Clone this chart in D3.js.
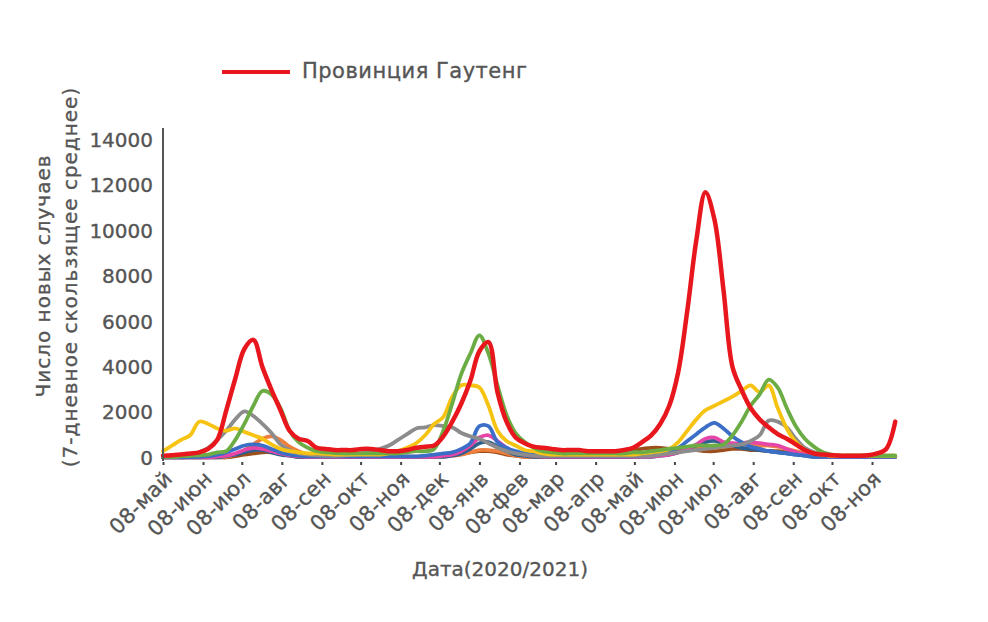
<!DOCTYPE html>
<html>
<head>
<meta charset="utf-8">
<script src="https://cdn.jsdelivr.net/npm/d3@7"></script>
<style>
  body { margin: 0; background: #fff; }
  text { font-family: "DejaVu Sans", sans-serif; fill: #555; stroke: #555; stroke-width: 0.35px; }
</style>
</head>
<body>
<div id="chart"></div>
<script>
// weekly points starting 08 May 2020 (7-day moving average, cases)
const startDate = new Date(2020, 4, 8);

const monthLabels = ["08-май", "08-июн", "08-июл", "08-авг", "08-сен", "08-окт", "08-ноя", "08-дек", "08-янв", "08-фев",
  "08-мар", "08-апр", "08-май", "08-июн", "08-июл", "08-авг", "08-сен", "08-окт", "08-ноя"];
const yTicks = [0, 2000, 4000, 6000, 8000, 10000, 12000, 14000];

const gauteng = [100,120,150,200,250,400,800,2100,3500,4800,5200,4000,3000,2100,1200,850,750,450,400,350,
  350,350,400,400,350,300,300,350,450,500,550,950,1600,2400,3400,4700,5100,2900,1600,900,
  650,500,450,400,350,350,350,300,300,300,300,350,450,700,1000,1500,2300,3800,6500,9600,
  11700,10500,7400,4000,3000,2200,1700,1350,1050,850,600,350,200,150,120,100,100,100,120,200,
  400,1600];
const kzn = [50,50,80,100,120,150,250,300,800,1500,2300,2950,2800,2200,1200,700,450,300,250,220,
  200,200,200,200,200,200,200,250,300,300,400,1200,2400,3700,4600,5400,4600,3200,1900,1100,
  700,450,300,250,200,200,200,200,200,200,200,200,250,250,300,350,400,450,500,550,
  550,550,600,1000,1600,2300,2800,3450,3100,2200,1400,850,500,250,150,100,100,100,100,100,
  100,100];
const westernCape = [300,550,800,1000,1600,1500,1300,1200,1300,1150,1000,850,600,400,300,250,200,200,180,150,
  150,150,150,150,150,200,300,450,650,1000,1500,1800,2700,3200,3200,3100,2300,1200,750,550,
  350,300,200,150,150,150,150,150,150,150,150,150,150,200,250,300,400,700,1200,1700,
  2100,2300,2500,2700,2950,3200,2900,3200,2200,1300,700,350,200,150,100,100,100,100,100,100,
  100,100];
const easternCape = [50,50,80,120,250,450,800,1200,1700,2050,1850,1500,1100,600,350,200,150,120,100,100,
  120,150,200,300,400,550,800,1050,1300,1350,1450,1400,1350,1100,950,850,650,450,300,200,
  150,100,100,100,100,100,100,100,100,100,100,100,100,100,100,150,200,250,300,350,
  400,450,500,550,600,750,1000,1650,1600,1350,850,450,250,150,100,100,100,100,100,100,
  100,100];
const freeState = [30,30,30,40,50,80,150,250,400,550,600,550,400,250,150,100,70,70,70,70,
  70,70,70,70,70,70,70,70,70,100,150,200,250,400,650,1400,1400,700,450,300,
  200,150,100,100,100,100,100,100,100,100,100,100,100,120,150,200,300,450,750,1050,
  1350,1550,1300,950,700,500,400,300,250,200,150,100,50,50,50,50,50,50,50,50,
  50,50];
const northWest = [30,30,30,30,30,30,60,100,200,350,450,400,300,200,120,80,50,50,50,50,
  50,50,50,50,50,50,50,50,50,50,50,100,150,300,550,900,1000,750,450,250,
  150,100,60,60,60,60,60,60,60,60,60,60,60,60,60,100,150,250,400,600,
  850,900,700,650,650,700,650,600,550,400,250,150,100,50,50,50,50,50,50,50,
  50,50];
const mpumalanga = [30,30,30,30,30,30,30,80,150,250,350,350,250,150,100,50,50,50,50,50,
  50,50,50,50,50,50,50,50,50,50,50,50,100,200,400,650,700,500,300,150,
  100,50,50,50,50,50,50,50,50,50,50,50,50,50,50,100,150,250,400,550,
  700,750,650,550,450,400,350,300,250,200,150,100,50,50,50,50,50,50,50,50,
  50,50];
const limpopo = [40,40,40,40,40,40,40,40,150,350,600,850,950,800,500,300,150,60,60,60,
  60,60,60,60,60,60,60,60,60,60,60,60,100,150,250,350,350,300,200,100,
  50,50,50,50,50,50,50,50,50,50,50,50,50,80,120,150,200,300,350,400,
  450,450,500,550,600,600,550,550,500,400,300,200,100,50,50,50,50,50,50,50,
  50,50];
const northernCape = [30,30,30,30,30,30,30,30,80,150,200,250,250,200,120,50,50,50,50,50,
  50,50,50,50,50,50,50,50,50,50,80,100,150,200,250,300,300,250,150,100,
  50,50,50,50,50,50,50,50,100,150,200,300,350,400,450,450,400,400,350,350,
  300,300,350,400,400,350,350,300,300,250,200,150,100,50,50,50,50,50,50,50,
  50,50];

// drawing order: bottom first, Gauteng on top
const series = [
  { values: northernCape, color: "#9c4f1c" },
  { values: limpopo, color: "#ee7f3c" },
  { values: mpumalanga, color: "#2d5f8f" },
  { values: northWest, color: "#e646a7" },
  { values: freeState, color: "#3b6fc7" },
  { values: easternCape, color: "#8c8c8c" },
  { values: westernCape, color: "#f6c312" },
  { values: kzn, color: "#6bad44" },
  { values: gauteng, color: "#e8161d", width: 4.5 }
];

const width = 988, height = 622;
const svg = d3.select("#chart").append("svg")
  .attr("width", width)
  .attr("height", height)
  .style("background", "#fff");

const x = d3.scaleTime()
  .domain([startDate, new Date(2021, 10, 8)])
  .range([163, 872]);
const y = d3.scaleLinear()
  .domain([0, 14000])
  .range([458, 140]);

const dates = gauteng.map((d, i) => d3.timeDay.offset(startDate, 7 * i));

const line = d3.line()
  .x((d, i) => x(dates[i]))
  .y(d => y(d))
  .curve(d3.curveCatmullRom.alpha(0.5));

svg.selectAll(".series")
  .data(series)
  .enter().append("path")
  .attr("class", "series")
  .attr("d", d => line(d.values))
  .attr("fill", "none")
  .attr("stroke", d => d.color)
  .attr("stroke-width", d => d.width || 3.8)
  .attr("stroke-linejoin", "round")
  .attr("stroke-linecap", "round");

// y axis: line + labels, no tick marks
const yAxis = d3.axisLeft(y).tickValues(yTicks).tickSize(0).tickPadding(10)
  .tickFormat(d3.format("d"));
const gy = svg.append("g").attr("transform", "translate(163,0)").call(yAxis);
gy.select(".domain").attr("d", "M0,128V461").attr("stroke", "#555").attr("stroke-width", 2);
gy.selectAll("text").style("font-size", "20px").attr("fill", "#555");

// x axis: small tick dots, rotated labels
const tickDates = monthLabels.map((m, i) => new Date(2020, 4 + i, 8));
const xAxis = d3.axisBottom(x).tickValues(tickDates).tickSize(3)
  .tickFormat((d, i) => monthLabels[i]);
const gx = svg.append("g").attr("transform", "translate(0,462)").call(xAxis);
gx.select(".domain").remove();
gx.selectAll("line").attr("stroke", "#444").attr("stroke-width", 2);
gx.selectAll("text")
  .style("font-size", "21px")
  .style("letter-spacing", "0.3px")
  .attr("fill", "#555")
  .attr("text-anchor", "end")
  .attr("dy", null)
  .attr("y", 0)
  .attr("transform", "translate(10,18) rotate(-45)");

// axis titles
svg.append("text")
  .attr("transform", "translate(50,276) rotate(-90)")
  .attr("text-anchor", "middle")
  .style("font-size", "20px")
  .style("letter-spacing", "1px")
  .text("Число новых случаев");
svg.append("text")
  .attr("transform", "translate(77,277) rotate(-90)")
  .attr("text-anchor", "middle")
  .style("font-size", "20px")
  .style("letter-spacing", "1px")
  .text("(7-дневное скользящее среднее)");
svg.append("text")
  .attr("x", 500)
  .attr("y", 576)
  .attr("text-anchor", "middle")
  .style("font-size", "20px")
  .text("Дата(2020/2021)");

// legend
svg.append("line")
  .attr("x1", 222).attr("x2", 290)
  .attr("y1", 72).attr("y2", 72)
  .attr("stroke", "#e8161d")
  .attr("stroke-width", 4);
svg.append("text")
  .attr("x", 302)
  .attr("y", 78)
  .style("font-size", "21px")
  .style("letter-spacing", "0.5px")
  .text("Провинция Гаутенг");
</script>
</body>
</html>
